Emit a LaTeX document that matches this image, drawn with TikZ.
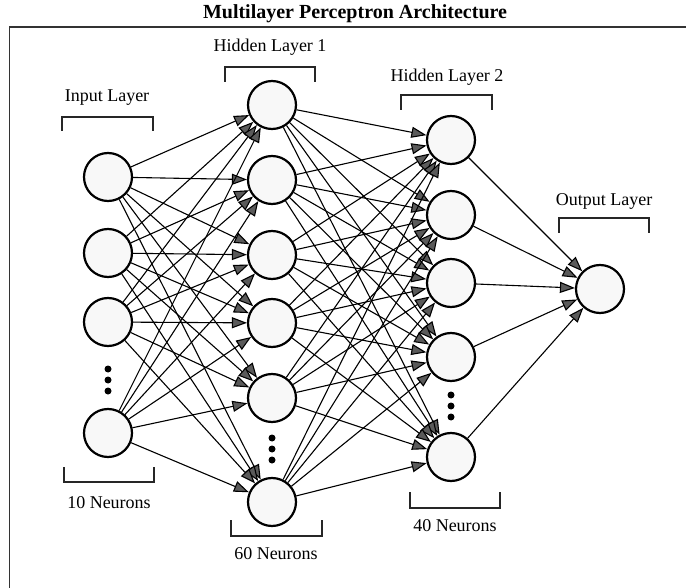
\documentclass[tikz,border=0pt]{standalone}
\usepackage{fontspec}
\setmainfont{Liberation Serif}
\usetikzlibrary{arrows.meta}
\definecolor{neuronfill}{HTML}{F8F8F8}
\definecolor{tipgray}{HTML}{5A5A5A}
\tikzset{
	neuron/.style={circle, draw=black, line width=2.2pt, fill=neuronfill, minimum size=48pt, inner sep=0pt},
	link/.style={line width=1.1pt, -{Triangle[length=15pt, width=11pt, fill=tipgray]}},
	bracket/.style={line width=1.8pt, draw=black!85},
	layerlabel/.style={font=\fontsize{18}{20}\selectfont},
	dotmark/.style={circle, fill=black, inner sep=0pt, minimum size=7pt}
}
\begin{document}
\begin{tikzpicture}[x=1pt, y=-1pt]
			\useasboundingbox (0,0) rectangle (686,588);
			\draw[line width=1.5pt, black!80] (9.5,588) -- (9.5,27) -- (686,27);
			\node[font=\fontsize{20}{22}\selectfont\bfseries] (title) at (355,14) {Multilayer Perceptron Architecture};
			\foreach \n/\y in {1/177,2/253,3/322,4/433}{
				\node[neuron] (in\n) at (108,\y) {};
			}
			\foreach \n/\y in {1/105,2/180,3/255,4/323,5/398,6/502}{
				\node[neuron] (ha\n) at (272,\y) {};
			}
			\foreach \n/\y in {1/140,2/215,3/283,4/357,5/457}{
				\node[neuron] (hb\n) at (451,\y) {};
			}
			\node[neuron] (out) at (600,289) {};
			\foreach \i in {1,...,4}{
				\foreach \j in {1,...,6}{
					\draw[link] (in\i) -- (ha\j);
				}
			}
			\foreach \i in {1,...,6}{
				\foreach \j in {1,...,5}{
					\draw[link] (ha\i) -- (hb\j);
				}
			}
			\foreach \i in {1,...,5}{
				\draw[link] (hb\i) -- (out);
			}
			\foreach \k/\y in {1/369,2/380,3/391}{
				\node[dotmark] (indot\k) at (108,\y) {};
			}
			\foreach \k/\y in {1/438,2/449,3/460}{
				\node[dotmark] (hadot\k) at (272,\y) {};
			}
			\foreach \k/\y in {1/395,2/406,3/417}{
				\node[dotmark] (hbdot\k) at (451,\y) {};
			}
			\draw[bracket] (62,131) -- (62,117) -- (153,117) -- (153,131);
			\draw[bracket] (225,82) -- (225,67) -- (315,67) -- (315,82);
			\draw[bracket] (401,110) -- (401,95) -- (492,95) -- (492,110);
			\draw[bracket] (559,233) -- (559,218) -- (649,218) -- (649,233);
			\draw[bracket] (64,467) -- (64,482) -- (154,482) -- (154,467);
			\draw[bracket] (231,520) -- (231,536) -- (322,536) -- (322,520);
			\draw[bracket] (410,492) -- (410,508) -- (500,508) -- (500,492);
			\node[layerlabel] (inlabel) at (107,98) {Input Layer};
			\node[layerlabel] (halabel) at (270,47) {Hidden Layer 1};
			\node[layerlabel] (hblabel) at (447,77) {Hidden Layer 2};
			\node[layerlabel] (outlabel) at (604,201) {Output Layer};
			\node[layerlabel] (insize) at (109,503) {10 Neurons};
			\node[layerlabel] (hasize) at (276,554) {60 Neurons};
			\node[layerlabel] (hbsize) at (455,526) {40 Neurons};
		\end{tikzpicture}
\end{document}
